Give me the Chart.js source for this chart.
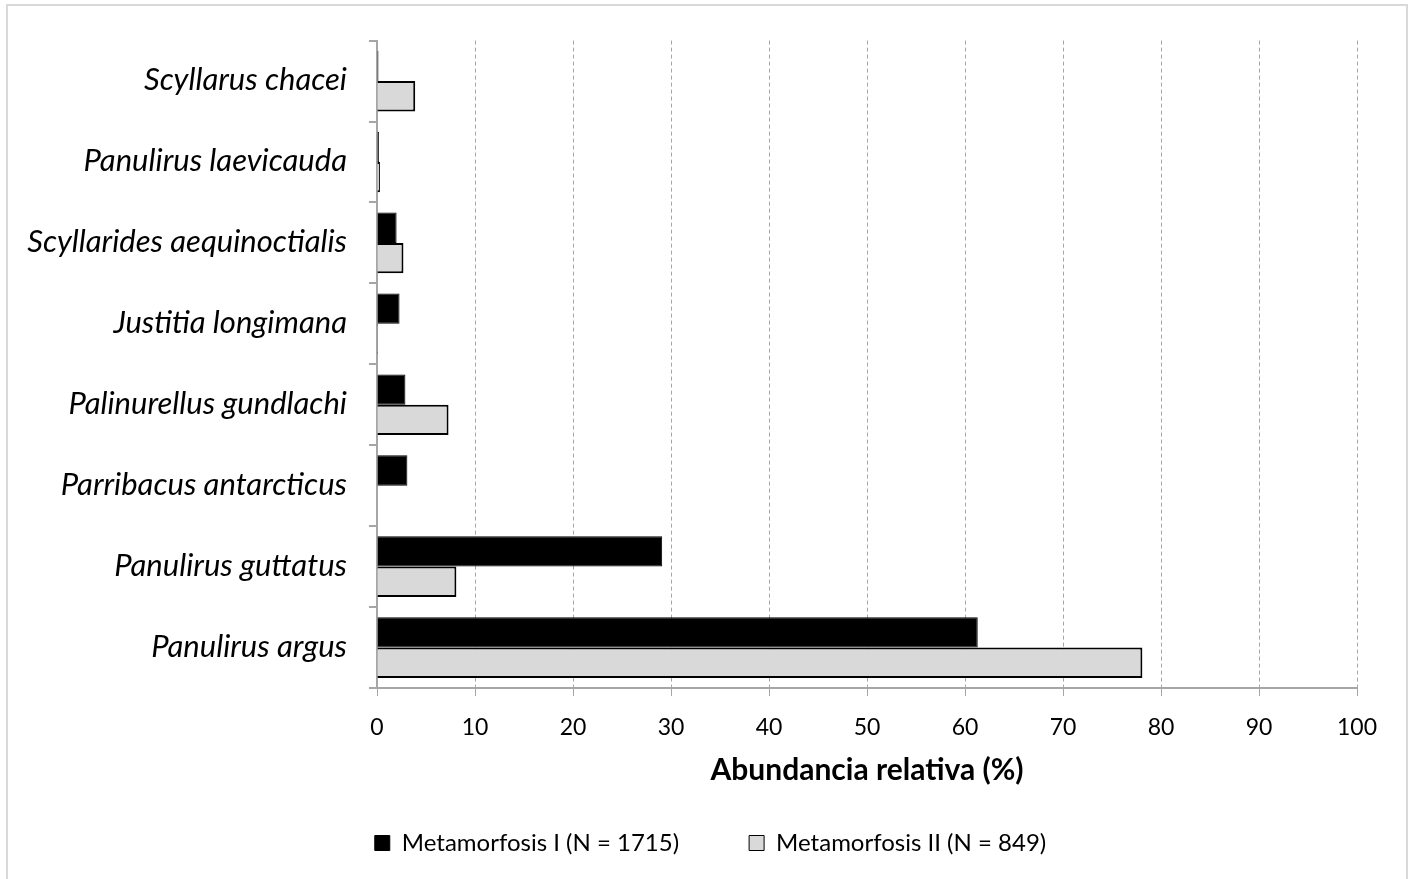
<!DOCTYPE html>
<html>
<head>
<meta charset="utf-8">
<script src="https://cdn.jsdelivr.net/npm/chart.js@4/dist/chart.umd.min.js"></script>
<style>
  html, body { margin: 0; padding: 0; background: #fff; }
  #wrap { width: 1418px; height: 879px; position: relative; }
</style>
</head>
<body>
<div id="wrap"><canvas id="chart" width="1418" height="879"></canvas></div>
<script>
const species = ['Scyllarus chacei', 'Panulirus laevicauda', 'Scyllarides aequinoctialis', 'Justitia longimana',
    'Palinurellus gundlachi', 'Parribacus antarcticus', 'Panulirus guttatus', 'Panulirus argus'];
const metamorfosisI = [0.15, 0.2, 2.0, 2.3, 2.9, 3.1, 29.1, 61.3];
const metamorfosisII = [3.9, 0.3, 2.7, 0.1, 7.3, 0, 8.1, 78.1];
const seriesNames = ['Metamorfosis I (N = 1715)', 'Metamorfosis II (N = 849)'];
const xTicks = [0, 10, 20, 30, 40, 50, 60, 70, 80, 90, 100];

const axisGray = '#a6a6a6';
const fontFamily = 'Lato, "Open Sans", sans-serif';

// light frame round the whole chart, like the office export
const framePlugin = {
    id: 'frame',
    beforeDraw(chart) {
        const ctx = chart.ctx;
        ctx.save();
        ctx.fillStyle = '#fff';
        ctx.fillRect(0, 0, chart.width, chart.height);
        ctx.strokeStyle = '#d9d9d9';
        ctx.lineWidth = 2;
        ctx.strokeRect(7, 5, 1400, 900);
        ctx.restore();
    }
};

// legend box is centred on canvas minus right padding; nudge it to sit under the plot like the original
const legendShift = {
    id: 'legendShift',
    afterLayout(chart) {
        if (chart.legend) {
            chart.legend.left += 32;
            chart.legend.right += 32;
        }
    }
};

const ctx = document.getElementById('chart').getContext('2d');
new Chart(ctx, {
    type: 'bar',
    data: {
        labels: species,
        datasets: [{
            label: seriesNames[0],
            data: metamorfosisI,
            backgroundColor: '#000',
            borderColor: '#000',
            borderWidth: 1
        }, {
            label: seriesNames[1],
            data: metamorfosisII,
            backgroundColor: '#d9d9d9',
            borderColor: '#000',
            borderWidth: 2
        }]
    },
    options: {
        indexAxis: 'y',
        responsive: false,
        animation: false,
        categoryPercentage: 0.75,
        barPercentage: 1.0,
        layout: { padding: { top: 34, right: 61, left: 0, bottom: 14 } },
        plugins: {
            tooltip: { enabled: false },
            legend: {
                position: 'bottom',
                labels: {
                    color: '#000',
                    font: { family: fontFamily, size: 24 },
                    boxWidth: 15,
                    boxHeight: 15,
                    padding: 70,
                    generateLabels(chart) {
                        return chart.data.datasets.map((ds, i) => ({
                            text: ds.label,
                            fillStyle: ds.backgroundColor,
                            strokeStyle: '#000',
                            lineWidth: 1,
                            datasetIndex: i
                        }));
                    }
                }
            }
        },
        scales: {
            x: {
                min: 0,
                max: 100,
                afterBuildTicks(scale) {
                    scale.ticks = xTicks.map(v => ({ value: v }));
                },
                afterFit(scale) { scale.height = 73; },
                grid: {
                    color: axisGray,
                    lineWidth: 1,
                    tickBorderDash: [],
                    tickLength: 8,
                    tickColor: axisGray
                },
                border: { color: axisGray, width: 2, dash: [4, 3] },
                ticks: {
                    color: '#000',
                    font: { family: fontFamily, size: 23 },
                    padding: 18
                },
                title: {
                    display: true,
                    text: 'Abundancia relativa (%)',
                    color: '#000',
                    font: { family: fontFamily, size: 30, weight: 'bold' },
                    padding: { top: 0, bottom: -27 }
                }
            },
            y: {
                afterFit(scale) { scale.width = 377; },
                grid: {
                    drawOnChartArea: false,
                    tickLength: 8,
                    tickColor: axisGray,
                    lineWidth: 2
                },
                border: { color: axisGray, width: 2 },
                ticks: {
                    color: '#000',
                    font: { family: fontFamily, size: 31, style: 'italic' },
                    padding: 22,
                    labelOffset: -1
                }
            }
        }
    },
    plugins: [framePlugin, legendShift]
});
</script>
</body>
</html>
